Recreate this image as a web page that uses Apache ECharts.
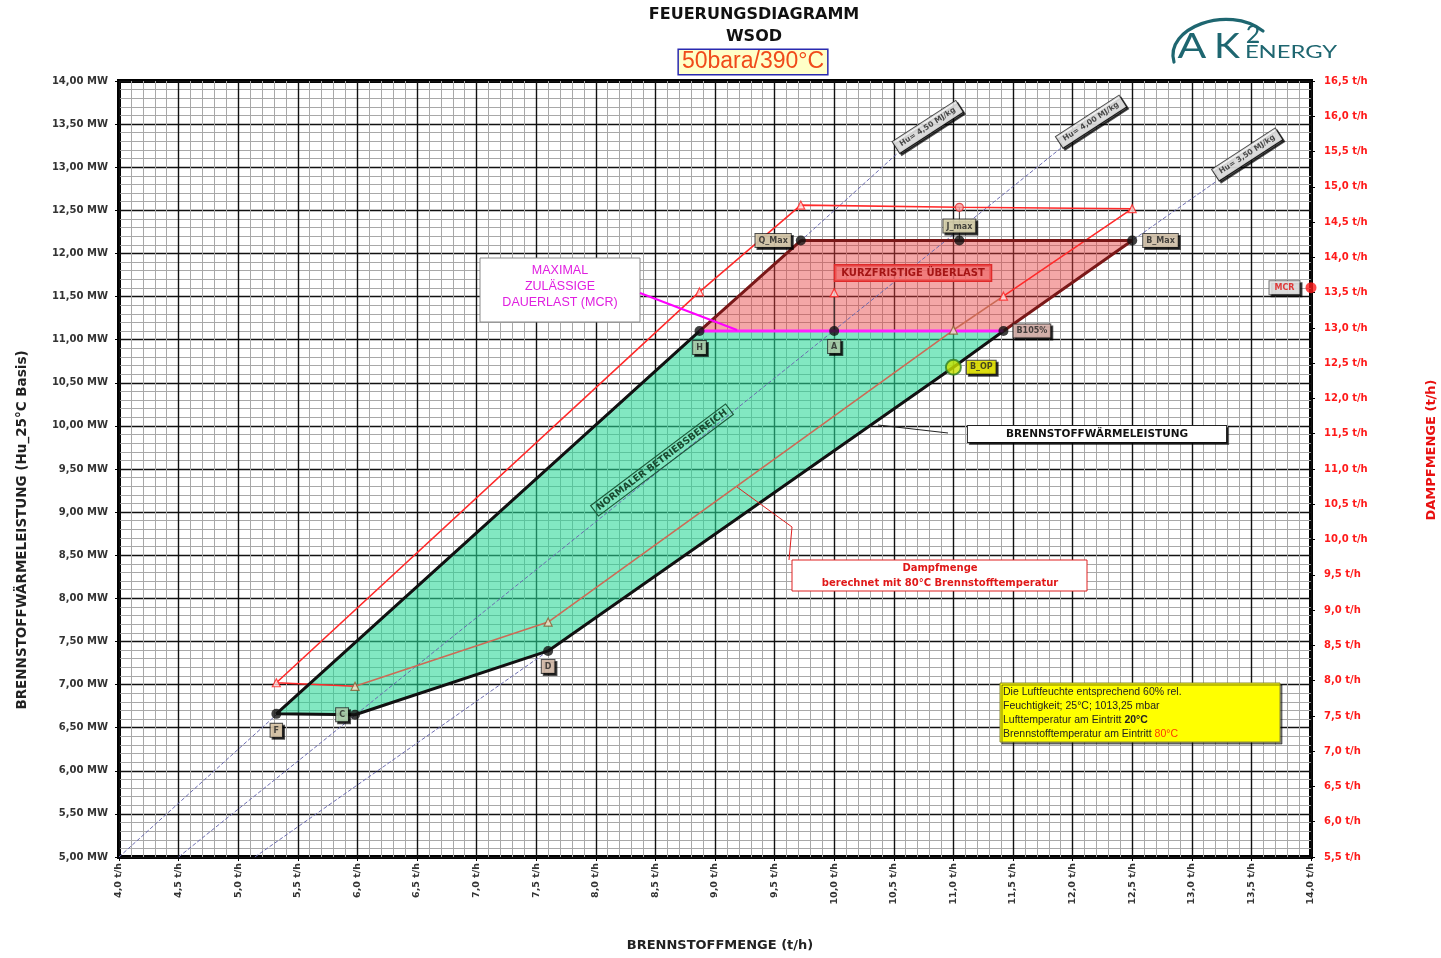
<!DOCTYPE html>
<html><head><meta charset="utf-8">
<script src="https://cdn.jsdelivr.net/npm/echarts@6/dist/echarts.min.js"></script>
<style>html,body{margin:0;padding:0;background:#fff}#c{width:1441px;height:958px}</style>
</head><body><div id="c"></div>
<script>
// ---------- DATA ----------
const pointNames = ['F', 'C', 'D', 'B_OP', 'B105%', 'B_Max', 'J_max', 'Q_Max', 'H', 'A'];
const pointFuel  = [5.32, 5.98, 7.60, 11.00, 11.42, 12.50, 11.05, 9.72, 8.87, 10.00];   // t/h
const pointMW    = [6.66, 6.65, 7.39, 10.68, 11.10, 12.15, 12.15, 12.15, 11.10, 11.10]; // MW
const pointSteam = [7.97, 7.92, 8.83, 12.97, 13.45, 14.69, 14.71, 14.74, 13.51, 13.50]; // t/h Dampf

const normalAreaPoints   = ['F', 'H', 'B105%', 'B_OP', 'D', 'C'];
const overloadAreaPoints = ['H', 'Q_Max', 'B_Max', 'B105%'];
const normalOutline      = ['B105%', 'B_OP', 'D', 'C', 'F', 'H'];
const overloadOutline    = ['H', 'Q_Max', 'B_Max', 'B105%'];
const mcrLinePoints      = ['H', 'B105%'];
const steamRedPath       = ['C', 'F', 'H', 'Q_Max', 'J_max', 'B_Max', 'B105%'];
const steamBrownPath     = ['B105%', 'B_OP', 'D', 'C'];
const steamMarkerPoints  = ['F', 'C', 'D', 'B_OP', 'B105%', 'B_Max', 'J_max', 'Q_Max', 'H', 'A'];
const connectorPoints    = ['A', 'J_max'];

const mcrFuel = 14.0;
const mcrSteam = 13.57;

const huNames     = ['Hu= 4,50 MJ/kg', 'Hu= 4,00 MJ/kg', 'Hu= 3,50 MJ/kg'];
const huStartFuel = [4.00, 4.50, 5.14];
const huStartMW   = [5.00, 5.00, 5.00];
const huEndFuel   = [10.53, 11.90, 13.21];
const huEndMW     = [13.16, 13.22, 12.84];

// ---------- STYLES ----------
const P = n => pointNames.indexOf(n);
const mwPt = n => [pointFuel[P(n)], pointMW[P(n)]];
const stPt = n => [pointFuel[P(n)], pointSteam[P(n)]];

const BOLD = 'DejaVu Sans';
const labelBox = {
  fontSize: 8, fontWeight: 'bold', fontFamily: BOLD, color: '#222',
  padding: [3, 3, 2, 3], borderColor: '#222', borderWidth: 1,
  shadowColor: 'rgba(0,0,0,0.85)', shadowOffsetX: 2, shadowOffsetY: 2, shadowBlur: 0
};
const pointLabelStyle = {
  'F':     {position: 'bottom', distance: 5, backgroundColor: '#f6e0bd'},
  'C':     {position: 'left',   distance: 2, backgroundColor: '#c4ecc4'},
  'D':     {position: 'bottom', distance: 4, backgroundColor: '#f2d6c2'},
  'B_OP':  {position: 'right',  distance: 5, backgroundColor: '#ffff00'},
  'B105%': {position: 'right',  distance: 5, backgroundColor: '#f4c8c0'},
  'B_Max': {position: 'right',  distance: 6, backgroundColor: '#f2e0c4'},
  'J_max': {position: 'top',    distance: 3, backgroundColor: '#f4ecc2'},
  'Q_Max': {position: 'left',   distance: 5, backgroundColor: '#f2e2bf'},
  'H':     {position: 'bottom', distance: 5, backgroundColor: '#c4ecc4'},
  'A':     {position: 'bottom', distance: 4, backgroundColor: '#c4ecc4'}
};
const pointMarkerStyle = {
  'B_OP': {size: 15, color: '#c8e400', borderColor: '#2f7d25', borderWidth: 2}
};
const steamMarkerStyle = {
  'D': {symbol: 'triangle', color: '#f3e4c8', borderColor: '#8a5a30'},
  'C': {symbol: 'triangle', color: '#f3e4c8', borderColor: '#8a5a30'},
  'B_OP': {symbol: 'triangle', color: '#f3e4c8', borderColor: '#8a5a30'},
  'J_max': {symbol: 'circle', color: '#f7a0a0', borderColor: '#e03030'}
};

const fmt = (v, d) => v.toFixed(d).replace('.', ',');

function polygonSeries(names, fill, z) {
  const pts = names.map(mwPt);
  return {
    type: 'custom', xAxisIndex: 0, yAxisIndex: 0, z: z, silent: true,
    data: pts,
    renderItem: (params, api) => {
      if (params.dataIndex !== 0) return null;
      return {type: 'polygon', shape: {points: pts.map(p => api.coord(p))},
              style: {fill: fill, lineWidth: 0}};
    }
  };
}

const series = [];
series.push(polygonSeries(normalAreaPoints, 'rgba(40,215,150,0.58)', 2));
series.push(polygonSeries(overloadAreaPoints, 'rgba(230,60,60,0.45)', 2));

// Hu reference lines
for (let i = 0; i < huNames.length; i++) {
  series.push({
    type: 'line', z: 3, symbol: 'none', silent: true,
    lineStyle: {color: '#6b6bb0', width: 1, type: [4, 2]},
    data: [[huStartFuel[i], huStartMW[i]], [huEndFuel[i], huEndMW[i]]]
  });
}
// Hu labels
series.push({
  type: 'scatter', z: 8, silent: true, symbolSize: 1, itemStyle: {color: 'rgba(0,0,0,0)'},
  data: huNames.map((n, i) => ({value: [huEndFuel[i], huEndMW[i]], name: n})),
  label: Object.assign({}, labelBox, {
    show: true, formatter: p => p.name, rotate: 33, position: 'right', distance: 0,
    offset: [2, -6], backgroundColor: '#fff', fontSize: 7.5, padding: [3, 5, 2, 5]
  })
});

// steam polygon (right axis)
series.push({type: 'line', yAxisIndex: 1, z: 4, symbol: 'none', silent: true,
  lineStyle: {color: '#ff2a2a', width: 1.6}, data: steamRedPath.map(stPt)});
series.push({type: 'line', yAxisIndex: 1, z: 4, symbol: 'none', silent: true,
  lineStyle: {color: '#cc6a55', width: 1.6}, data: steamBrownPath.map(stPt)});

// outlines
series.push({type: 'line', z: 5, symbol: 'none', silent: true,
  lineStyle: {color: '#111', width: 3}, data: normalOutline.map(mwPt)});
series.push({type: 'line', z: 5, symbol: 'none', silent: true,
  lineStyle: {color: '#7a1818', width: 3}, data: overloadOutline.map(mwPt)});
series.push({type: 'line', z: 6, symbol: 'none', silent: true,
  lineStyle: {color: '#ff20ff', width: 3}, data: mcrLinePoints.map(mwPt)});

// connectors point -> steam value
const chart = echarts.init(document.getElementById('c'));
series.push({
  type: 'custom', z: 6, silent: true,
  data: connectorPoints.map(mwPt),
  renderItem: (params, api) => {
    const n = connectorPoints[params.dataIndex];
    const p1 = api.coord(mwPt(n));
    const y2 = chart.convertToPixel({yAxisIndex: 1}, pointSteam[P(n)]);
    return {type: 'line', shape: {x1: p1[0], y1: p1[1], x2: p1[0], y2: y2},
            style: {stroke: '#333', lineWidth: 1}};
  }
});

// steam markers
series.push({
  type: 'scatter', yAxisIndex: 1, z: 7, silent: true,
  data: steamMarkerPoints.map(n => {
    const s = steamMarkerStyle[n] || {symbol: 'triangle', color: '#ffe0e0', borderColor: '#ff2020'};
    return {value: stPt(n), symbol: s.symbol, symbolSize: 8,
            itemStyle: {color: s.color, borderColor: s.borderColor, borderWidth: 1.2}};
  })
});

// operating points
series.push({
  type: 'scatter', z: 9, silent: true,
  data: pointNames.map(n => {
    const m = pointMarkerStyle[n] || {size: 10, color: '#111', borderColor: '#000', borderWidth: 0};
    return {value: mwPt(n), name: n, symbolSize: m.size,
      itemStyle: {color: m.color, borderColor: m.borderColor, borderWidth: m.borderWidth},
      label: Object.assign({}, labelBox, pointLabelStyle[n], {show: true, formatter: n})};
  })
});

// MCR point
series.push({
  type: 'scatter', yAxisIndex: 1, z: 10, silent: true,
  data: [{value: [mcrFuel, mcrSteam], symbolSize: 11, itemStyle: {color: '#ff1a1a'},
    label: Object.assign({}, labelBox, {show: true, formatter: 'MCR', position: 'left', distance: 6,
      backgroundColor: '#fff', color: '#e01010', borderColor: '#555', padding: [3, 5, 2, 5]})}]
});

// ---------- GRAPHICS (titles, annotations) ----------
const T = (x, y, text, st, extra) => Object.assign({type: 'text', x: x, y: y, z: 50,
  style: Object.assign({text: text, fontFamily: BOLD, fontWeight: 'bold', fill: '#111',
    align: 'center', verticalAlign: 'middle'}, st)}, extra || {});
const LOGO = '#1e6670';

const graphic = [
  T(754, 15, 'FEUERUNGSDIAGRAMM', {fontSize: 16}),
  T(754, 37, 'WSOD', {fontSize: 16}),
  T(753, 62, '50bara/390°C', {fontFamily: 'Liberation Sans Narrow, Liberation Sans', fontWeight: 'normal',
    fontSize: 23, fill: '#f04a1a', backgroundColor: '#ffffc8', borderColor: '#2a2ab0', borderWidth: 1.5,
    padding: [1, 3, 0, 3]}),
  // logo
  {type: 'bezierCurve', z: 50, shape: {x1: 1174, y1: 62, cpx1: 1164, cpy1: 28, cpx2: 1228, cpy2: 4, x2: 1263, y2: 31},
   style: {stroke: LOGO, lineWidth: 3.2, fill: 'none', lineCap: 'round'}},
  T(1192, 47, 'A', {fontFamily: 'Lato', fontWeight: 'normal', fontSize: 34, fill: LOGO}, {scaleX: 1.25}),
  T(1227, 47, 'K', {fontFamily: 'Lato', fontWeight: 'normal', fontSize: 34, fill: LOGO}, {scaleX: 1.15}),
  T(1253, 35, '2', {fontFamily: 'Lato', fontWeight: 'normal', fontSize: 25, fill: LOGO}),
  T(1291, 53, 'ENERGY', {fontFamily: 'Lato', fontWeight: 'normal', fontSize: 17, fill: LOGO}, {scaleX: 1.4}),
  // axis titles
  T(22, 530, 'BRENNSTOFFWÄRMELEISTUNG (Hu_25°C Basis)', {fontSize: 13.5, fill: '#222'}, {rotation: Math.PI / 2}),
  T(1432, 450, 'DAMPFMENGE (t/h)', {fontSize: 13, fill: '#e81010'}, {rotation: Math.PI / 2}),
  T(720, 946, 'BRENNSTOFFMENGE (t/h)', {fontSize: 13, fill: '#222'}),
  // MCR annotation
  {type: 'rect', z: 50, shape: {x: 480, y: 258, width: 160, height: 64},
   style: {fill: '#fff', stroke: '#888', lineWidth: 1}},
  T(560, 287, 'MAXIMAL\nZULÄSSIGE\nDAUERLAST (MCR)', {fontFamily: 'Liberation Sans', fontWeight: 'normal',
    fontSize: 12.5, lineHeight: 16, fill: '#e020e0'}),
  {type: 'line', z: 50, shape: {x1: 640, y1: 293, x2: 737, y2: 330}, style: {stroke: '#ff00ff', lineWidth: 2}},
  // overload
  T(913, 273, 'KURZFRISTIGE ÜBERLAST', {fontSize: 10, fill: '#a51515',
    backgroundColor: 'rgba(240,110,110,0.75)', borderColor: '#e02a2a', borderWidth: 1.5, padding: [3, 6, 2, 6]}),
  // normal operation
  T(662, 460, 'NORMALER BETRIEBSBEREICH', {fontSize: 9.5, fill: '#1a4a30',
    borderColor: '#1d5a3a', borderWidth: 1.2, padding: [2, 4, 1, 4]}, {rotation: 37 * Math.PI / 180}),
  // Brennstoffwärmeleistung
  {type: 'polyline', z: 50, shape: {points: [[878, 425], [948, 433]]}, style: {stroke: '#222', lineWidth: 1}},
  T(1097, 434, 'BRENNSTOFFWÄRMELEISTUNG', {fontSize: 10.5, fill: '#111', backgroundColor: '#fff',
    borderColor: '#222', borderWidth: 1, padding: [3, 38, 2, 38],
    shadowColor: 'rgba(0,0,0,0.6)', shadowOffsetX: 2, shadowOffsetY: 2}),
  // Dampfmenge
  {type: 'polyline', z: 50, shape: {points: [[737, 487], [792, 527], [789, 560]]}, style: {stroke: '#e02020', lineWidth: 1}},
  {type: 'rect', z: 50, shape: {x: 792, y: 560, width: 295, height: 31},
   style: {fill: '#fff', stroke: '#e02020', lineWidth: 1}},
  T(940, 568, 'Dampfmenge', {fontSize: 10, fill: '#e01818'}),
  T(940, 583, 'berechnet mit 80°C Brennstofftemperatur', {fontSize: 10, fill: '#e01818'}),
  // yellow info box
  {type: 'rect', z: 50, shape: {x: 1000, y: 683, width: 280, height: 59},
   style: {fill: '#ffff00', stroke: '#8a8a30', lineWidth: 1,
     shadowColor: 'rgba(0,0,0,0.5)', shadowOffsetX: 2, shadowOffsetY: 2}},
  {type: 'text', x: 1003, y: 685, z: 51, style: {
    text: '{a|Die Luftfeuchte entsprechend 60% rel.}\n{a|Feuchtigkeit; 25°C; 1013,25 mbar}\n{a|Lufttemperatur am Eintritt }{b|20°C}\n{a|Brennstofftemperatur am Eintritt }{c|80°C}',
    align: 'left', verticalAlign: 'top',
    rich: {
      a: {fontFamily: 'Liberation Sans', fontSize: 10.5, fill: '#222', lineHeight: 14},
      b: {fontFamily: 'Liberation Sans', fontWeight: 'bold', fontSize: 10.5, fill: '#222', lineHeight: 14},
      c: {fontFamily: 'Liberation Sans', fontSize: 10.5, fill: '#ff3a00', lineHeight: 14}
    }}}
];

const axisLabelBase = {fontFamily: BOLD, fontWeight: 'bold', fontSize: 10, color: '#333'};

const option = {
  backgroundColor: '#fff',
  animation: false,
  grid: {left: 119, right: 130, top: 81, bottom: 101, show: true,
         borderColor: '#000', borderWidth: 4, backgroundColor: '#fff'},
  xAxis: {
    type: 'value', min: 4, max: 14, interval: 0.5,
    axisLine: {show: false},
    axisTick: {show: true, length: 4, lineStyle: {color: '#000'}},
    axisLabel: Object.assign({}, axisLabelBase, {fontSize: 9.5, rotate: 90, margin: 6,
      formatter: v => fmt(v, 1) + ' t/h'}),
    splitLine: {show: true, lineStyle: {color: '#111', width: 1.4}},
    minorTick: {show: false, splitNumber: 5},
    minorSplitLine: {show: true, lineStyle: {color: '#a8a8a8', width: 1}}
  },
  yAxis: [{
    type: 'value', min: 5, max: 14, interval: 0.5, position: 'left',
    axisLine: {show: false},
    axisTick: {show: true, length: 4, lineStyle: {color: '#000'}},
    axisLabel: Object.assign({}, axisLabelBase, {margin: 11, formatter: v => fmt(v, 2) + ' MW'}),
    splitLine: {show: true, lineStyle: {color: '#111', width: 1.4}},
    minorTick: {show: false, splitNumber: 5},
    minorSplitLine: {show: true, lineStyle: {color: '#a8a8a8', width: 1}}
  }, {
    type: 'value', min: 5.5, max: 16.5, interval: 0.5, position: 'right',
    axisLine: {show: false},
    axisTick: {show: true, length: 4, lineStyle: {color: '#000'}},
    axisLabel: Object.assign({}, axisLabelBase, {color: '#ff1a1a', margin: 13,
      formatter: v => fmt(v, 1) + ' t/h'}),
    splitLine: {show: false}
  }],
  graphic: graphic,
  series: series
};
chart.setOption(option);
</script></body></html>
